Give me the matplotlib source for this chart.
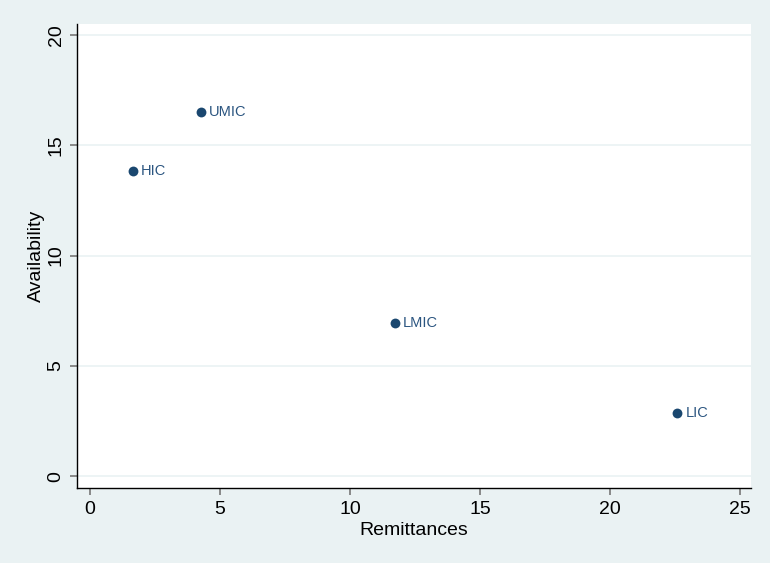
import matplotlib
matplotlib.use('Agg')
from matplotlib import pyplot as plt

groups = ['HIC', 'UMIC', 'LMIC', 'LIC']
remittances = [1.65, 4.27, 11.73, 22.58]
availability = [13.83, 16.5, 6.94, 2.86]
x_ticks = [0, 5, 10, 15, 20, 25]
y_ticks = [0, 5, 10, 15, 20]

bg = '#eaf2f3'
navy = '#1a476f'

plt.rcParams['font.family'] = ['Liberation Sans', 'DejaVu Sans']

fig = plt.figure(figsize=(7.7, 5.63), dpi=100, facecolor=bg)
ax = fig.add_axes([0.1, 0.1332, 0.875, 0.8242])
ax.set_facecolor('white')

ax.scatter(remittances, availability, s=50, color=navy, zorder=3, linewidths=0)
for x, y, name in zip(remittances, availability, groups):
    ax.annotate(name, (x, y), xytext=(6, 0), textcoords='offset points',
                va='center', ha='left', fontsize=10.5, color='#2b5580')

ax.set_xlim(-0.5, 25.42)
ax.set_ylim(-0.54, 20.5)
ax.set_xticks(x_ticks)
ax.set_yticks(y_ticks)
ax.grid(axis='y', color=bg, linewidth=1.2, zorder=0)
ax.set_axisbelow(True)

for side in ['top', 'right']:
    ax.spines[side].set_visible(False)
for side in ['left', 'bottom']:
    ax.spines[side].set_color('black')
    ax.spines[side].set_linewidth(1.0)

ax.tick_params(axis='both', length=5, width=1.2, color='#777777', labelsize=14, pad=4)
plt.setp(ax.get_yticklabels(), rotation=90, va='center')

ax.set_xlabel('Remittances', fontsize=14, labelpad=3)
ax.set_ylabel('Availability', fontsize=14, labelpad=2)

fig.savefig('out.png', dpi=100, facecolor=bg)
